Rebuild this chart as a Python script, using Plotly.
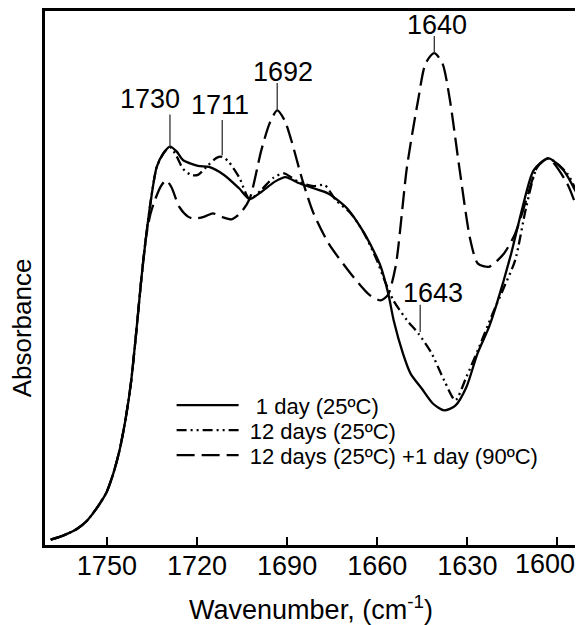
import plotly.graph_objects as go

# ---- data (wavenumber in cm-1, absorbance in arbitrary units) ----
wn_1day = [1768.7, 1764.4, 1760.0, 1756.7, 1753.5, 1750.1, 1747.8, 1745.8, 1743.8, 1742.0,
           1740.2, 1738.5, 1737.0, 1735.5, 1733.4, 1731.0, 1729.0, 1726.8, 1724.7, 1719.7,
           1716.0, 1711.0, 1706.0, 1702.5, 1698.6, 1694.2, 1690.5, 1686.2, 1681.2, 1676.2,
           1670.0, 1665.0, 1661.3, 1658.8, 1656.3, 1654.5, 1651.4, 1648.9, 1645.2, 1641.5,
           1637.7, 1634.0, 1630.3, 1626.6, 1622.8, 1620.3, 1615.4, 1611.6, 1607.9, 1603.0,
           1598.0, 1592.5]
abs_1day = [0.010, 0.018, 0.030, 0.045, 0.068, 0.099, 0.135, 0.177, 0.235, 0.303,
            0.400, 0.500, 0.575, 0.640, 0.708, 0.735, 0.746, 0.737, 0.721, 0.710,
            0.708, 0.693, 0.668, 0.648, 0.661, 0.680, 0.689, 0.678, 0.668, 0.658,
            0.630, 0.590, 0.552, 0.521, 0.470, 0.420, 0.358, 0.321, 0.293, 0.265,
            0.252, 0.261, 0.296, 0.359, 0.408, 0.450, 0.546, 0.633, 0.702, 0.724,
            0.702, 0.646]

wn_12days = [1768.7, 1764.4, 1760.0, 1756.7, 1753.5, 1750.1, 1747.8, 1745.8, 1743.8, 1742.0,
             1740.2, 1738.5, 1737.0, 1735.5, 1733.4, 1731.0, 1729.0, 1726.8, 1724.7, 1722.0,
             1719.7, 1716.5, 1713.5, 1711.6, 1709.5, 1706.0, 1702.5, 1698.6, 1694.5, 1691.1,
             1686.2, 1681.2, 1677.5, 1673.8, 1668.8, 1664.5, 1660.1, 1657.6, 1654.6, 1650.1,
             1646.3, 1642.0, 1637.7, 1634.0, 1630.3, 1626.5, 1621.6, 1618.0, 1614.1, 1610.4,
             1606.7, 1603.0, 1596.8, 1592.5]
abs_12days = [0.010, 0.018, 0.030, 0.045, 0.068, 0.099, 0.135, 0.177, 0.235, 0.303,
              0.400, 0.500, 0.575, 0.640, 0.708, 0.735, 0.745, 0.728, 0.705, 0.693,
              0.693, 0.710, 0.725, 0.727, 0.718, 0.689, 0.648, 0.665, 0.688, 0.696,
              0.680, 0.672, 0.674, 0.646, 0.621, 0.585, 0.533, 0.496, 0.458, 0.421,
              0.396, 0.360, 0.308, 0.271, 0.315, 0.365, 0.433, 0.480, 0.533, 0.633,
              0.708, 0.724, 0.696, 0.646]

wn_90C = [1768.7, 1764.4, 1760.0, 1756.7, 1753.5, 1750.1, 1747.8, 1745.8, 1743.8, 1742.0,
          1740.2, 1738.5, 1737.0, 1735.5, 1734.0, 1732.0, 1730.3, 1728.5, 1725.9, 1723.0,
          1720.9, 1717.5, 1714.7, 1711.5, 1708.5, 1705.5, 1702.5, 1698.6, 1695.8, 1693.3,
          1690.8, 1688.6, 1684.9, 1681.2, 1676.2, 1668.8, 1662.5, 1658.8, 1656.5, 1653.9,
          1650.1, 1646.4, 1643.9, 1641.0, 1638.3, 1635.8, 1632.7, 1629.0, 1626.5, 1622.8,
          1617.8, 1614.1, 1610.4, 1606.7, 1603.0, 1596.8, 1592.5]
abs_90C = [0.010, 0.018, 0.030, 0.045, 0.068, 0.099, 0.135, 0.177, 0.235, 0.303,
           0.400, 0.500, 0.575, 0.620, 0.646, 0.672, 0.683, 0.670, 0.633, 0.615,
           0.611, 0.615, 0.621, 0.614, 0.610, 0.622, 0.648, 0.739, 0.790, 0.814,
           0.795, 0.758, 0.683, 0.621, 0.565, 0.508, 0.468, 0.458, 0.468, 0.521,
           0.708, 0.833, 0.902, 0.921, 0.902, 0.833, 0.708, 0.571, 0.527, 0.521,
           0.546, 0.583, 0.646, 0.708, 0.724, 0.677, 0.614]

series_names = ["\u00a0\u00a01 day (25ºC)", "\u00a012 days (25ºC)",
                "\u00a012 days (25ºC) +1 day (90ºC)"]
tick_vals = [1750, 1720, 1690, 1660, 1630, 1600]
tick_text = ["1750", "1720", "1690", "1660", "1630", ""]
last_tick_label = "1600"

# peak labels
peak_labels = ["1730", "1711", "1692", "1640", "1643"]
peak_line_x = [1729.0, 1711.6, 1693.3, 1641.0, 1645.7]
peak_line_y0 = [0.746, 0.730, 0.814, 0.921, 0.399]
peak_line_y1 = [0.806, 0.796, 0.865, 0.953, 0.450]
peak_text_x = [1735.8, 1712.3, 1691.3, 1640.2, 1641.5]
peak_text_y = [0.836, 0.824, 0.886, 0.974, 0.471]

FONT = "Liberation Sans, Arial, sans-serif"

fig = go.Figure()
dashes = ["solid", "10px,4px,2px,4px,2px,4px", "18px,7px"]
legend_ids = ["legend", "legend2", "legend3"]
for wn, ab, name, d, lg in zip([wn_1day, wn_12days, wn_90C], [abs_1day, abs_12days, abs_90C],
                               series_names, dashes, legend_ids):
    fig.add_trace(go.Scatter(x=wn, y=ab, mode="lines", name=name, legend=lg,
                             line=dict(color="black", width=2.3, dash=d, shape="spline",
                                       smoothing=0.7)))

for t, lx, ly0, ly1, tx, ty in zip(peak_labels, peak_line_x, peak_line_y0, peak_line_y1,
                                   peak_text_x, peak_text_y):
    fig.add_shape(type="line", xref="x", yref="y", x0=lx, x1=lx, y0=ly0, y1=ly1,
                  line=dict(color="#333333", width=1.3))
    fig.add_annotation(x=tx, y=ty, text=t, showarrow=False, xanchor="center",
                       yanchor="middle", font=dict(family=FONT, size=27, color="black"))

fig.add_annotation(xref="paper", yref="paper", x=1.0, y=0, yshift=-19, text=last_tick_label,
                   showarrow=False, xanchor="right", yanchor="middle",
                   font=dict(family=FONT, size=27, color="black"))

fig.add_annotation(xref="paper", yref="paper", x=-0.043, y=0.406, text="Absorbance",
                   textangle=-90, showarrow=False, xanchor="center", yanchor="middle",
                   height=28,
                   font=dict(family=FONT, size=26, color="black"))

legend_style = dict(x=0.238, xanchor="left", yanchor="middle", bgcolor="rgba(0,0,0,0)",
                    font=dict(family=FONT, size=22, color="black"), itemwidth=62)

# page body has an 8px default margin: figure is sized/margined to compensate
fig.update_layout(
    width=575, height=617,
    margin=dict(l=37, r=6, t=3, b=80, autoexpand=False),
    paper_bgcolor="white", plot_bgcolor="white",
    showlegend=True,
    legend=dict(y=0.2615, **legend_style),
    legend2=dict(y=0.2147, **legend_style),
    legend3=dict(y=0.1678, **legend_style),
    font=dict(family=FONT, color="black"),
)
fig.update_xaxes(range=[1770.6, 1593.5], tickvals=tick_vals, ticktext=tick_text,
                 ticks="inside", ticklen=8, automargin=False, ticklabelstandoff=-5,
                 tickwidth=2, tickcolor="black", showline=True, linewidth=2.5,
                 linecolor="black", mirror=True, showgrid=False, zeroline=False,
                 tickfont=dict(family=FONT, size=27, color="black"),
                 title=dict(text="Wavenumber, (cm<sup>-1</sup>)", standoff=21,
                            font=dict(family=FONT, size=27, color="black")))
fig.update_yaxes(range=[0, 1], showticklabels=False, ticks="", showline=True,
                 automargin=False,
                 linewidth=2.5, linecolor="black", mirror=True, showgrid=False,
                 zeroline=False)

fig.write_html("out.html")
